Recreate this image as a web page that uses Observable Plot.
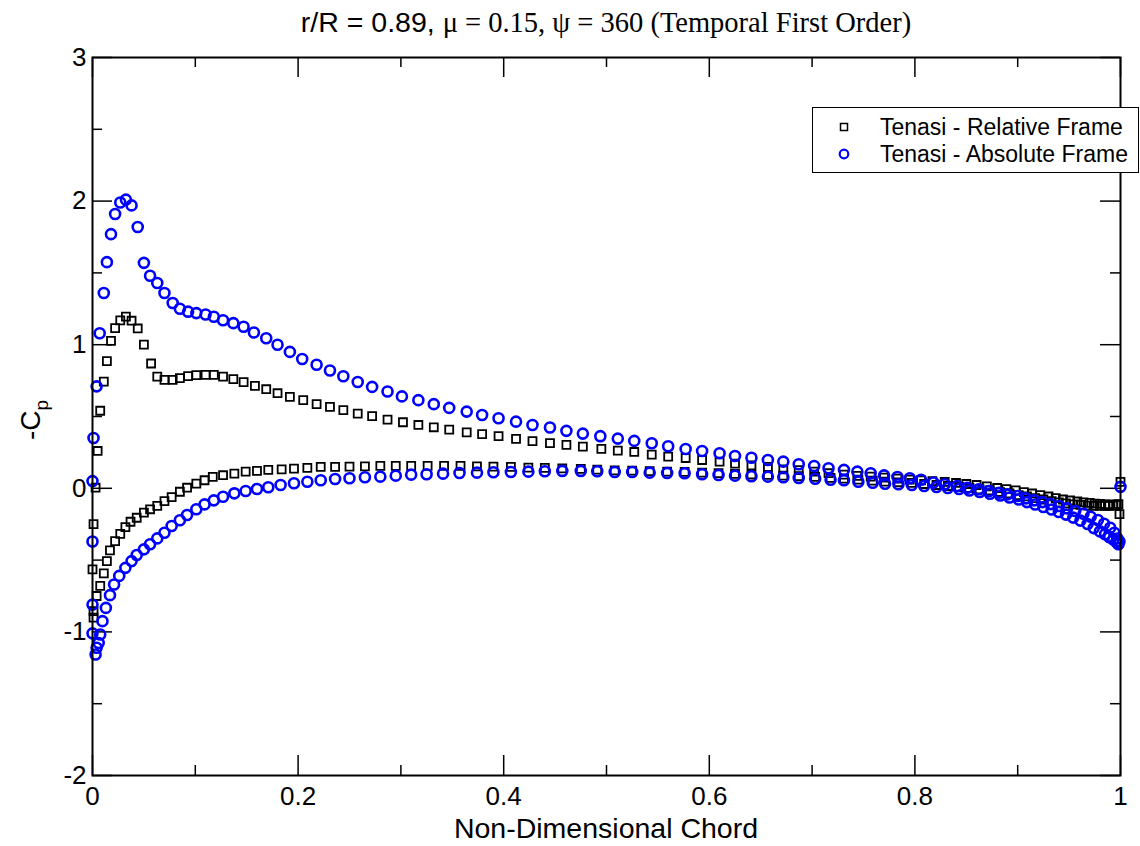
<!DOCTYPE html>
<html>
<head>
<meta charset="utf-8">
<script src="https://cdn.jsdelivr.net/npm/d3@7"></script>
<script src="https://cdn.jsdelivr.net/npm/@observablehq/plot@0.6"></script>
<style>
  body { margin: 0; background: #fff; }
  #wrap { position: relative; width: 1140px; height: 846px; overflow: hidden; background: #fff; }
  #title { height: 40px; box-sizing: border-box; padding-left: 92px; padding-right: 20px; text-align: center;
           font-size: 28.5px; line-height: 44px; color: #000; white-space: nowrap; }
  #title .sans { font-family: "Liberation Sans", Arial, sans-serif; }
  #title .serif { font-family: "Liberation Serif", "Times New Roman", serif; }
  #legend { position: absolute; left: 812px; top: 107px; width: 327px; height: 66px; box-sizing: border-box;
            border: 1.5px solid #000; background: #fff; font-family: "Liberation Sans", Arial, sans-serif; font-size: 23px; }
  #legend .item { position: absolute; left: 0; height: 26px; width: 100%; }
  #legend svg { position: absolute; left: 18px; top: 0; }
  #legend span { position: absolute; left: 67px; top: 0; line-height: 26px; white-space: nowrap; }
</style>
</head>
<body>
<div id="wrap">
  <div id="title"><span class="sans">r/R = 0.89, </span><span class="serif">μ = 0.15, ψ = 360 (Temporal First Order)</span></div>
  <div id="chart"></div>
  <div id="legend"></div>
</div>
<script>
// ---- Series names ----
const seriesNames = ["Tenasi - Relative Frame", "Tenasi - Absolute Frame"];

// ---- Tenasi - Relative Frame (black squares) ----
const relUpperX = [0.001,0.001,0.0,0.001,0.003,0.005,0.0075,0.011,0.014,0.018,
  0.022,0.027,0.0325,0.038,0.044,0.050,0.057,0.063,0.070,0.078,
  0.085,0.093,0.101,0.110,0.118,0.127,0.137,0.147,0.158,0.169,
  0.180,0.192,0.205,0.218,0.231,0.244,0.258,0.272,0.287,0.302,
  0.317,0.332,0.347,0.364,0.379,0.395,0.412,0.428,0.445,0.461,
  0.477,0.495,0.511,0.527,0.544,0.560,0.577,0.593,0.610,0.625,
  0.641,0.657,0.672,0.687,0.702,0.716,0.731,0.744,0.757,0.770,
  0.783,0.795,0.806,0.817,0.829,0.840,0.850,0.860,0.870,0.880,
  0.889,0.898,0.906,0.914,0.922,0.930,0.937,0.944,0.951,0.958,
  0.964,0.970,0.975,0.980,0.985,0.989,0.993,0.996,0.998,1.0];
const relUpperCp = [-0.90,-0.855,-0.565,-0.25,0.004,0.26,0.54,0.743,0.886,1.027,
  1.116,1.17,1.195,1.167,1.113,1.0,0.869,0.778,0.755,0.755,
  0.767,0.781,0.788,0.79,0.79,0.778,0.76,0.739,0.713,0.69,
  0.662,0.637,0.614,0.586,0.567,0.544,0.52,0.502,0.478,0.46,
  0.441,0.425,0.409,0.39,0.377,0.363,0.344,0.328,0.314,0.302,
  0.29,0.274,0.262,0.253,0.234,0.22,0.211,0.197,0.185,0.172,
  0.16,0.149,0.132,0.126,0.116,0.105,0.095,0.086,0.081,0.074,
  0.067,0.06,0.056,0.05,0.044,0.037,0.03,0.023,0.013,0.002,
  -0.005,-0.015,-0.026,-0.036,-0.047,-0.057,-0.068,-0.078,-0.085,-0.092,
  -0.098,-0.102,-0.106,-0.109,-0.112,-0.113,-0.113,-0.113,-0.11,0.045];
const relLowerX = [0.004,0.0075,0.011,0.014,0.017,0.022,0.027,0.032,0.037,0.043,
  0.050,0.056,0.063,0.070,0.077,0.085,0.092,0.101,0.109,0.117,
  0.127,0.138,0.149,0.160,0.171,0.184,0.196,0.209,0.222,0.236,
  0.250,0.265,0.280,0.295,0.310,0.326,0.342,0.358,0.374,0.390,
  0.407,0.424,0.440,0.457,0.475,0.491,0.508,0.525,0.542,0.559,
  0.576,0.593,0.609,0.625,0.641,0.657,0.672,0.687,0.703,0.718,
  0.731,0.745,0.759,0.771,0.784,0.797,0.809,0.821,0.832,0.843,
  0.853,0.863,0.873,0.883,0.892,0.901,0.909,0.917,0.925,0.933,
  0.940,0.947,0.954,0.961,0.968,0.974,0.980,0.985,0.989,0.993,
  0.996,0.999];
const relLowerCp = [-0.75,-0.68,-0.593,-0.507,-0.432,-0.368,-0.317,-0.27,-0.233,-0.205,
  -0.17,-0.146,-0.123,-0.089,-0.061,-0.024,0.004,0.032,0.056,0.079,
  0.091,0.102,0.116,0.121,0.128,0.132,0.137,0.142,0.149,0.149,
  0.151,0.153,0.156,0.156,0.156,0.156,0.156,0.156,0.153,0.151,
  0.149,0.144,0.142,0.139,0.135,0.13,0.125,0.123,0.119,0.116,
  0.114,0.109,0.105,0.10,0.096,0.093,0.088,0.084,0.079,0.072,
  0.067,0.06,0.054,0.047,0.042,0.037,0.03,0.023,0.016,0.009,
  0.002,-0.007,-0.015,-0.026,-0.036,-0.047,-0.057,-0.068,-0.078,-0.089,
  -0.098,-0.105,-0.112,-0.116,-0.12,-0.123,-0.123,-0.123,-0.123,-0.12,
  -0.116,-0.18];

// ---- Tenasi - Absolute Frame (blue circles) ----
const absUpperX = [0.0,0.0,0.0,0.0,0.001,0.004,0.007,0.011,0.014,0.018,
  0.022,0.027,0.0325,0.038,0.044,0.050,0.056,0.063,0.070,0.078,
  0.085,0.093,0.101,0.110,0.118,0.127,0.137,0.147,0.157,0.169,
  0.180,0.192,0.204,0.218,0.231,0.244,0.258,0.272,0.287,0.301,
  0.317,0.332,0.347,0.364,0.379,0.395,0.412,0.428,0.445,0.461,
  0.477,0.494,0.511,0.527,0.544,0.560,0.577,0.593,0.610,0.625,
  0.641,0.657,0.672,0.687,0.702,0.716,0.731,0.744,0.757,0.770,
  0.783,0.795,0.806,0.818,0.829,0.841,0.851,0.862,0.872,0.882,
  0.890,0.900,0.908,0.916,0.924,0.932,0.940,0.948,0.956,0.964,
  0.971,0.978,0.984,0.990,0.994,0.997,0.999];
const absUpperCp = [-1.01,-0.81,-0.37,0.05,0.35,0.71,1.08,1.36,1.575,1.77,
  1.91,1.99,2.01,1.97,1.82,1.57,1.48,1.43,1.36,1.29,
  1.25,1.23,1.22,1.21,1.195,1.17,1.15,1.125,1.085,1.045,
  1.00,0.95,0.90,0.86,0.82,0.78,0.74,0.706,0.674,0.64,
  0.614,0.586,0.56,0.534,0.51,0.488,0.464,0.441,0.423,0.40,
  0.381,0.363,0.346,0.33,0.314,0.293,0.274,0.26,0.244,0.225,
  0.213,0.197,0.186,0.167,0.155,0.14,0.128,0.116,0.105,0.09,
  0.079,0.07,0.06,0.04,0.028,0.016,0.004,-0.007,-0.019,-0.031,
  -0.042,-0.054,-0.07,-0.084,-0.096,-0.11,-0.123,-0.14,-0.158,-0.177,
  -0.198,-0.221,-0.247,-0.275,-0.31,-0.35,-0.37];
const absLowerX = [0.003,0.004,0.006,0.0075,0.0097,0.013,0.017,0.021,0.026,0.032,
  0.038,0.043,0.050,0.056,0.063,0.070,0.077,0.085,0.092,0.101,
  0.109,0.118,0.127,0.138,0.149,0.160,0.171,0.183,0.196,0.209,
  0.222,0.236,0.250,0.265,0.280,0.295,0.310,0.325,0.341,0.357,
  0.374,0.390,0.407,0.424,0.440,0.457,0.475,0.491,0.508,0.525,
  0.542,0.559,0.576,0.593,0.609,0.625,0.641,0.657,0.672,0.687,
  0.703,0.718,0.731,0.745,0.759,0.771,0.784,0.797,0.809,0.821,
  0.832,0.843,0.853,0.863,0.873,0.883,0.892,0.901,0.909,0.917,
  0.925,0.933,0.940,0.947,0.954,0.961,0.968,0.974,0.980,0.985,
  0.989,0.993,0.996,0.998,1.0];
const absLowerCp = [-1.157,-1.11,-1.077,-1.018,-0.925,-0.833,-0.744,-0.67,-0.61,-0.554,
  -0.507,-0.465,-0.425,-0.39,-0.349,-0.31,-0.263,-0.223,-0.186,-0.146,
  -0.112,-0.084,-0.059,-0.035,-0.019,-0.005,0.007,0.023,0.035,0.046,
  0.056,0.065,0.07,0.077,0.081,0.088,0.095,0.098,0.102,0.107,
  0.109,0.112,0.114,0.116,0.119,0.121,0.121,0.119,0.114,0.114,
  0.109,0.107,0.105,0.098,0.093,0.088,0.084,0.081,0.077,0.072,
  0.067,0.06,0.056,0.046,0.039,0.032,0.028,0.023,0.016,0.009,
  0.002,-0.005,-0.015,-0.026,-0.038,-0.05,-0.064,-0.078,-0.096,-0.113,
  -0.13,-0.148,-0.165,-0.183,-0.204,-0.225,-0.249,-0.277,-0.30,-0.32,
  -0.34,-0.357,-0.374,-0.39,0.01];

// ---- Axis ticks ----
const xMajorTicks = [0, 0.2, 0.4, 0.6, 0.8, 1];
const xMinorTicks = [0.1, 0.3, 0.5, 0.7, 0.9];
const yMajorTicks = [-2, -1, 0, 1, 2, 3];
const yMinorTicks = [-1.5, -0.5, 0.5, 1.5, 2.5];
const xLabel = "Non-Dimensional Chord";
const yLabelMain = "-C";
const yLabelSub = "p";

// ---- Build tables ----
const toRows = (xs, ys) => xs.map((x, i) => ({x, cp: ys[i]}));
const relRows = toRows(relUpperX, relUpperCp).concat(toRows(relLowerX, relLowerCp));
const absRows = toRows(absUpperX, absUpperCp).concat(toRows(absLowerX, absLowerCp));

// ---- Layout ----
const W = 1140, H = 806;
const mL = 92, mR = 20, mT = 17, mB = 71;
const plotW = W - mL - mR, plotH = H - mT - mB;
const majorLen = 20, minorLen = 10;
const tickStyle = {stroke: "black", strokeWidth: 1.5};

const chart = Plot.plot({
  width: W, height: H,
  marginLeft: mL, marginRight: mR, marginTop: mT, marginBottom: mB,
  style: {fontFamily: "'Liberation Sans', Arial, sans-serif", fontSize: "26px", color: "black", background: "white"},
  x: {domain: [0, 1]},
  y: {domain: [-2, 3]},
  marks: [
    // inward ticks on all four sides
    Plot.tickX(xMajorTicks, {x: d => d, insetTop: plotH - majorLen, ...tickStyle}),
    Plot.tickX(xMajorTicks, {x: d => d, insetBottom: plotH - majorLen, ...tickStyle}),
    Plot.tickX(xMinorTicks, {x: d => d, insetTop: plotH - minorLen, ...tickStyle}),
    Plot.tickX(xMinorTicks, {x: d => d, insetBottom: plotH - minorLen, ...tickStyle}),
    Plot.tickY(yMajorTicks, {y: d => d, insetRight: plotW - majorLen, ...tickStyle}),
    Plot.tickY(yMajorTicks, {y: d => d, insetLeft: plotW - majorLen, ...tickStyle}),
    Plot.tickY(yMinorTicks, {y: d => d, insetRight: plotW - minorLen, ...tickStyle}),
    Plot.tickY(yMinorTicks, {y: d => d, insetLeft: plotW - minorLen, ...tickStyle}),
    Plot.axisX({ticks: xMajorTicks, tickSize: 0, tickPadding: 11, tickFormat: d => String(d), label: null}),
    Plot.axisY({ticks: yMajorTicks, tickSize: 0, tickPadding: 6, tickFormat: d => String(d), label: null}),
    Plot.dot(relRows, {x: "x", y: "cp", symbol: "square", r: 4.5, stroke: "black", strokeWidth: 1.8, fill: "none"}),
    Plot.dot(absRows, {x: "x", y: "cp", symbol: "circle", r: 5, stroke: "#0000ff", strokeWidth: 2.6, fill: "none"}),
    Plot.frame({stroke: "black", strokeWidth: 2})
  ]
});
document.getElementById("chart").appendChild(chart);

// axis titles
const svg = d3.select(chart);
svg.append("text")
  .attr("x", mL + plotW / 2).attr("y", H - 8)
  .attr("text-anchor", "middle").attr("font-size", 28.5).attr("fill", "black")
  .text(xLabel);
const yl = svg.append("text")
  .attr("transform", `translate(40, ${mT + plotH / 2 + 4}) rotate(-90)`)
  .attr("text-anchor", "middle").attr("font-size", 28).attr("fill", "black");
yl.append("tspan").text(yLabelMain);
yl.append("tspan").attr("font-size", 19).attr("dy", 8).text(yLabelSub);

// legend
const legend = d3.select("#legend");
const legendStyles = [
  {symbol: "square", stroke: "black", sw: 1.5},
  {symbol: "circle", stroke: "#0000ff", sw: 2.2}
];
seriesNames.forEach((name, i) => {
  const item = legend.append("div").attr("class", "item").style("top", (6 + i * 27) + "px");
  const s = item.append("svg").attr("width", 26).attr("height", 26);
  if (legendStyles[i].symbol === "square") {
    s.append("rect").attr("x", 9.5).attr("y", 9.5).attr("width", 7).attr("height", 7)
      .attr("fill", "none").attr("stroke", legendStyles[i].stroke).attr("stroke-width", legendStyles[i].sw);
  } else {
    s.append("circle").attr("cx", 13).attr("cy", 13).attr("r", 4.3)
      .attr("fill", "none").attr("stroke", legendStyles[i].stroke).attr("stroke-width", legendStyles[i].sw);
  }
  item.append("span").text(name);
});
</script>
</body>
</html>
